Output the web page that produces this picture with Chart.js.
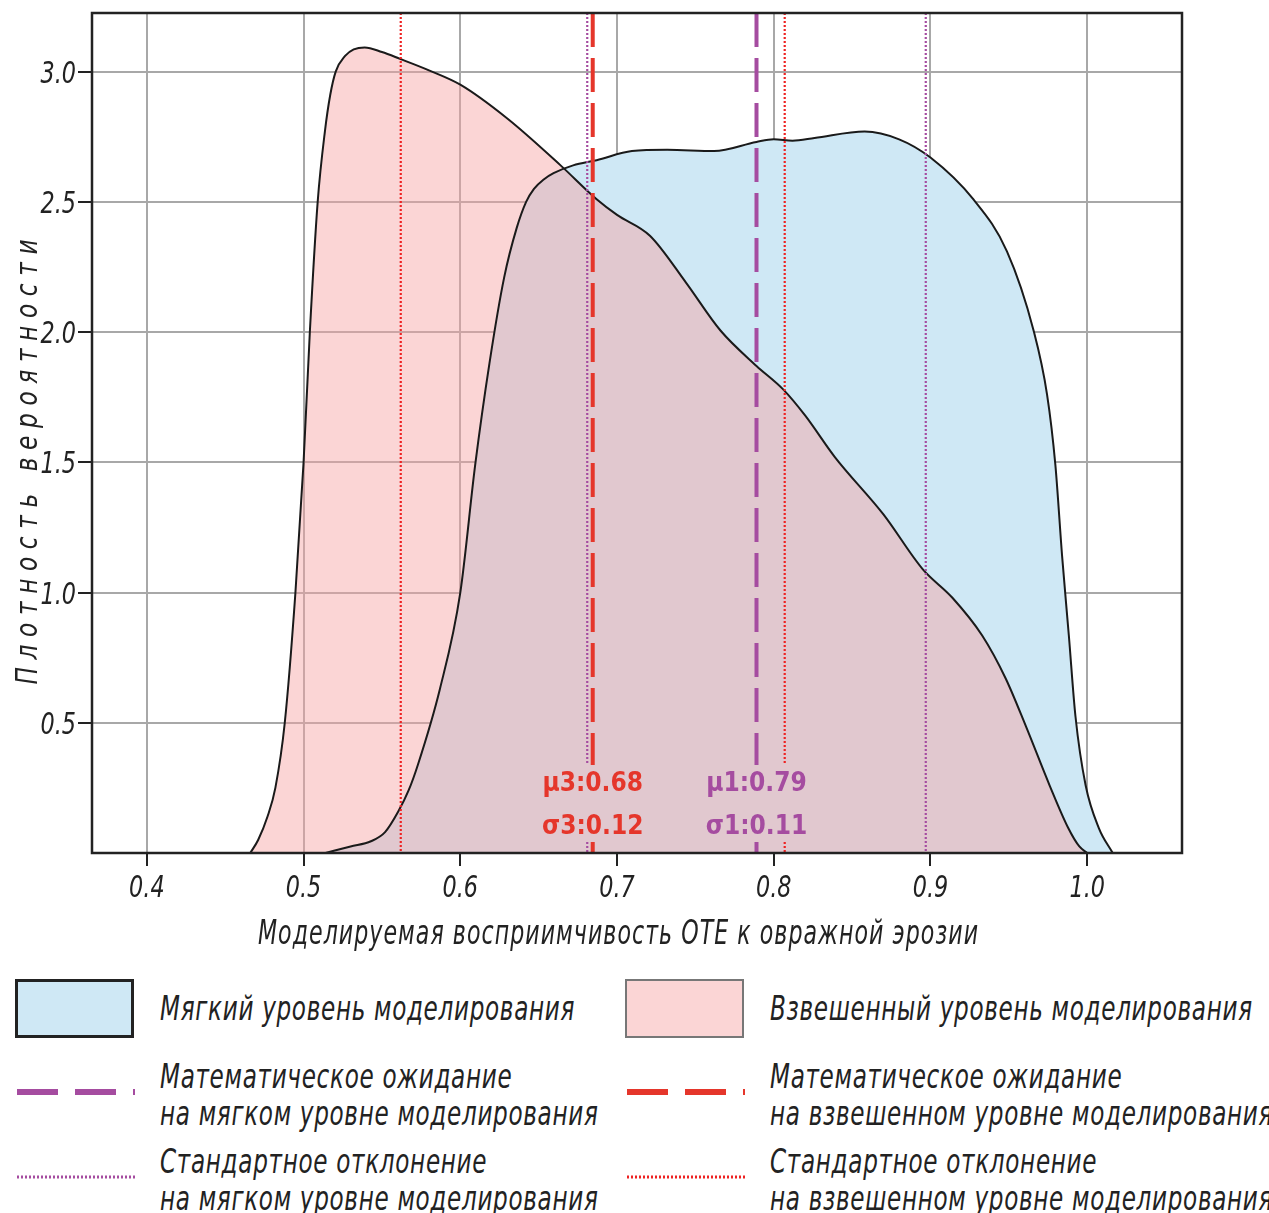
<!DOCTYPE html>
<html>
<head>
<meta charset="utf-8">
<script src="https://cdn.jsdelivr.net/npm/chart.js@4"></script>
<style>
body { margin: 0; background: #fff; width: 1269px; height: 1213px; overflow: hidden; position: relative; }
#wrap { position: absolute; left: 0; top: 0; width: 1269px; height: 960px; }
.leg { position: absolute; font-family: 'DejaVu Sans', sans-serif; font-style: italic; font-size: 34px; color: #222; letter-spacing: 1px; line-height: 37px; white-space: nowrap; transform: scaleX(0.68); transform-origin: 0 0; }
.box { position: absolute; box-sizing: border-box; width: 119px; height: 59px; }
svg { position: absolute; }
</style>
</head>
<body>
<div id="wrap"><canvas id="grafico"></canvas></div>
<div id="legenda"></div>
<script>
// Мягкий уровень моделирования
const softX = [0.514, 0.530, 0.543, 0.552, 0.5605, 0.567, 0.573, 0.587, 0.600, 0.6095, 0.6186, 0.628, 0.636, 0.642, 0.647, 0.653, 0.6595, 0.672, 0.687, 0.7095, 0.732, 0.762, 0.789, 0.800, 0.812, 0.826, 0.858, 0.880, 0.900, 0.9273, 0.9488, 0.9658, 0.9744, 0.9797, 0.984, 0.9883, 0.9925, 0.999, 1.0075, 1.0163];
const softY = [0, 0.025, 0.045, 0.08, 0.16, 0.24, 0.34, 0.63, 1.0, 1.49, 1.88, 2.21, 2.40, 2.50, 2.55, 2.585, 2.61, 2.64, 2.66, 2.695, 2.70, 2.695, 2.73, 2.74, 2.735, 2.745, 2.77, 2.74, 2.67, 2.51, 2.31, 2.006, 1.76, 1.49, 1.14, 0.835, 0.526, 0.26, 0.095, 0];

// Взвешенный уровень моделирования
const weightedX = [0.466, 0.471, 0.477, 0.482, 0.488, 0.4948, 0.500, 0.504, 0.509, 0.5136, 0.517, 0.5205, 0.5265, 0.532, 0.539, 0.550, 0.5615, 0.580, 0.600, 0.630, 0.664, 0.687, 0.700, 0.721, 0.744, 0.766, 0.789, 0.806, 0.820, 0.839, 0.870, 0.895, 0.914, 0.933, 0.948, 0.961, 0.976, 0.988, 0.995, 1.0];
const weightedY = [0, 0.05, 0.14, 0.25, 0.5, 1.0, 1.5, 2.0, 2.5, 2.77, 2.91, 3.0, 3.06, 3.085, 3.093, 3.075, 3.049, 3.005, 2.95, 2.82, 2.64, 2.51, 2.45, 2.37, 2.19, 2.006, 1.87, 1.78, 1.68, 1.52, 1.30, 1.09, 0.98, 0.835, 0.67, 0.485, 0.26, 0.095, 0.025, 0];

const meanSoft = 0.789, sdSoft = 0.108;
const meanWeighted = 0.6845, sdWeighted = 0.1225;
const labelsSoft = ['μ1:0.79', 'σ1:0.11'];
const labelsWeighted = ['μ3:0.68', 'σ3:0.12'];

const xTicks = [0.4, 0.5, 0.6, 0.7, 0.8, 0.9, 1.0];
const yTicks = [0.5, 1.0, 1.5, 2.0, 2.5, 3.0];
const xMin = 0.365, xMax = 1.0605, yMax = 3.225;

const xTitle = 'Моделируемая восприимчивость ОТЕ к овражной эрозии';
const yTitle = 'Плотность вероятности';
const seriesNames = ['Мягкий уровень моделирования', 'Взвешенный уровень моделирования'];
const meanNames = [['Математическое ожидание', 'на мягком уровне моделирования'], ['Математическое ожидание', 'на взвешенном уровне моделирования']];
const sdNames = [['Стандартное отклонение', 'на мягком уровне моделирования'], ['Стандартное отклонение', 'на взвешенном уровне моделирования']];

const purple = '#a54ca0';
const red = '#e5362b';
const fonte = "'DejaVu Sans', sans-serif";

const pontos = (xs, ys) => xs.map((v, i) => ({ x: v, y: ys[i] }));

// texto estreito (fonte comprimida na horizontal)
function texto(ctx, t, x, y, font, align, squeeze, spacing) {
    ctx.save();
    ctx.font = font;
    ctx.letterSpacing = '0px';
    const w = (ctx.measureText(t).width + spacing * (t.length - 1)) * squeeze;
    const x0 = align === 'center' ? x - w / 2 : align === 'right' ? x - w : x;
    ctx.translate(x0, y);
    ctx.scale(squeeze, 1);
    ctx.letterSpacing = spacing + 'px';
    ctx.textAlign = 'left';
    ctx.textBaseline = 'alphabetic';
    ctx.fillText(t, 0, 0);
    ctx.restore();
}

function espaco(ctx, t, font, comprimento, squeeze) {
    ctx.save();
    ctx.font = font;
    ctx.letterSpacing = '0px';
    const w = ctx.measureText(t).width;
    ctx.restore();
    return Math.max(0, (comprimento / squeeze - w) / (t.length - 1));
}

const sobreposicao = {
    id: 'sobreposicao',
    afterDraw(chart) {
        const { ctx, chartArea: a, scales: { x, y } } = chart;
        ctx.save();

        // rótulos μ/σ e as caixas deles
        ctx.font = "bold 26px 'DejaVu Sans Condensed', 'DejaVu Sans', sans-serif";
        const grupos = [
            { at: meanWeighted, linhas: labelsWeighted, cor: red },
            { at: meanSoft, linhas: labelsSoft, cor: purple }
        ];
        const caixas = grupos.map(g => {
            const cx = x.getPixelForValue(g.at);
            const w = Math.max(...g.linhas.map(t => ctx.measureText(t).width));
            return { l: cx - w / 2 - 4, r: cx + w / 2 + 4, cx };
        });
        const gapTop = a.bottom - 88, gapBottom = a.bottom - 11;

        const vline = (v, cor, largura, dash) => {
            const px = x.getPixelForValue(v);
            const dentro = caixas.some(c => px > c.l && px < c.r);
            ctx.strokeStyle = cor;
            ctx.lineWidth = largura;
            ctx.setLineDash(dash);
            ctx.beginPath();
            ctx.moveTo(px, a.top);
            if (dentro) {
                ctx.lineTo(px, gapTop);
                ctx.moveTo(px, gapBottom);
            }
            ctx.lineTo(px, a.bottom);
            ctx.stroke();
        };

        vline(meanWeighted - sdWeighted, '#ee2222', 2.2, [2, 2]);
        vline(meanWeighted + sdWeighted, '#ee2222', 2.2, [2, 2]);
        vline(meanSoft - sdSoft, purple, 2.2, [2, 2]);
        vline(meanSoft + sdSoft, purple, 2.2, [2, 2]);
        vline(meanWeighted, red, 4, [34, 11]);
        vline(meanSoft, purple, 4, [34, 11]);

        // moldura
        ctx.setLineDash([]);
        ctx.strokeStyle = '#222';
        ctx.lineWidth = 2.5;
        ctx.strokeRect(a.left, a.top, a.right - a.left, a.bottom - a.top);

        ctx.textAlign = 'center';
        ctx.textBaseline = 'alphabetic';
        grupos.forEach((g, i) => {
            ctx.fillStyle = g.cor;
            ctx.fillText(g.linhas[0], caixas[i].cx, a.bottom - 62);
            ctx.fillText(g.linhas[1], caixas[i].cx, a.bottom - 19);
        });

        // rótulos dos ticks
        ctx.fillStyle = '#222';
        const fTick = 'italic 31px ' + fonte;
        x.ticks.forEach(t => texto(ctx, t.value.toFixed(1), x.getPixelForValue(t.value), a.bottom + 44, fTick, 'center', 0.72, 0));
        y.ticks.forEach(t => texto(ctx, t.value.toFixed(1), a.left - 16, y.getPixelForValue(t.value) + 11, fTick, 'right', 0.72, 0));

        // títulos dos eixos
        const fTitulo = 'italic 33px ' + fonte;
        const sx = espaco(ctx, xTitle, fTitulo, 720, 0.67);
        texto(ctx, xTitle, (a.left + a.right) / 2 - 19, a.bottom + 91, fTitulo, 'center', 0.67, sx);

        const fY = 'italic 31px ' + fonte;
        const sy = espaco(ctx, yTitle, fY, 445, 0.75);
        ctx.translate(37, a.top + 449);
        ctx.rotate(-Math.PI / 2);
        texto(ctx, yTitle, 0, 0, fY, 'center', 0.75, sy);
        ctx.restore();
    }
};

new Chart(document.getElementById('grafico'), {
    type: 'line',
    data: {
        datasets: [{
            label: seriesNames[1],
            data: pontos(weightedX, weightedY),
            borderColor: '#1a1a1a',
            borderWidth: 2,
            backgroundColor: 'rgba(246, 162, 162, 0.45)',
            fill: 'origin',
            pointRadius: 0,
            cubicInterpolationMode: 'monotone',
            order: 0
        }, {
            label: seriesNames[0],
            data: pontos(softX, softY),
            borderColor: '#1a1a1a',
            borderWidth: 2,
            backgroundColor: '#cfe8f5',
            fill: 'origin',
            pointRadius: 0,
            cubicInterpolationMode: 'monotone',
            order: 1
        }]
    },
    options: {
        responsive: true,
        maintainAspectRatio: false,
        animation: false,
        events: [],
        layout: { padding: { top: 13, right: 87, left: 0, bottom: 0 } },
        plugins: {
            legend: { display: false },
            tooltip: { enabled: false },
            filler: { drawTime: 'beforeDatasetsDraw' }
        },
        scales: {
            x: {
                type: 'linear',
                min: xMin,
                max: xMax,
                z: 1,
                afterBuildTicks: s => { s.ticks = xTicks.map(v => ({ value: v })); },
                afterFit: s => { s.height = 107; },
                border: { display: false },
                grid: { color: '#a8a8a8', lineWidth: 2, tickColor: '#222', tickLength: 13 },
                ticks: { display: false }
            },
            y: {
                min: 0,
                max: yMax,
                z: 1,
                afterBuildTicks: s => { s.ticks = yTicks.map(v => ({ value: v })); },
                afterFit: s => { s.width = 92; },
                border: { display: false },
                grid: { color: '#a8a8a8', lineWidth: 2, tickColor: '#222', tickLength: 14 },
                ticks: { display: false }
            }
        }
    },
    plugins: [sobreposicao]
});

// legenda
const legenda = document.getElementById('legenda');
const colunas = [
    { x: 15, fundo: '#cfe8f5', borda: '3px solid #222', cor: purple, pontilhado: purple },
    { x: 625, fundo: '#fbd5d5', borda: '2px solid #777', cor: red, pontilhado: '#ee2222' }
];
colunas.forEach((c, i) => {
    const caixa = document.createElement('div');
    caixa.className = 'box';
    caixa.style.cssText = `left:${c.x}px;top:979px;background:${c.fundo};border:${c.borda};`;
    legenda.appendChild(caixa);

    const textos = [[seriesNames[i]], meanNames[i], sdNames[i]];
    const topos = [990, 1058, 1143];
    textos.forEach((t, j) => {
        const d = document.createElement('div');
        d.className = 'leg';
        d.style.left = (c.x + 145) + 'px';
        d.style.top = topos[j] + 'px';
        d.innerHTML = t.join('<br>');
        legenda.appendChild(d);
    });

    legenda.insertAdjacentHTML('beforeend',
        `<svg style="left:${c.x}px;top:1080px" width="122" height="24"><line x1="2" y1="12" x2="120" y2="12" stroke="${c.cor}" stroke-width="6" stroke-dasharray="41 17"/></svg>` +
        `<svg style="left:${c.x}px;top:1165px" width="122" height="24"><line x1="2" y1="12" x2="120" y2="12" stroke="${c.pontilhado}" stroke-width="3" stroke-dasharray="2 2"/></svg>`);
});
</script>
</body>
</html>
